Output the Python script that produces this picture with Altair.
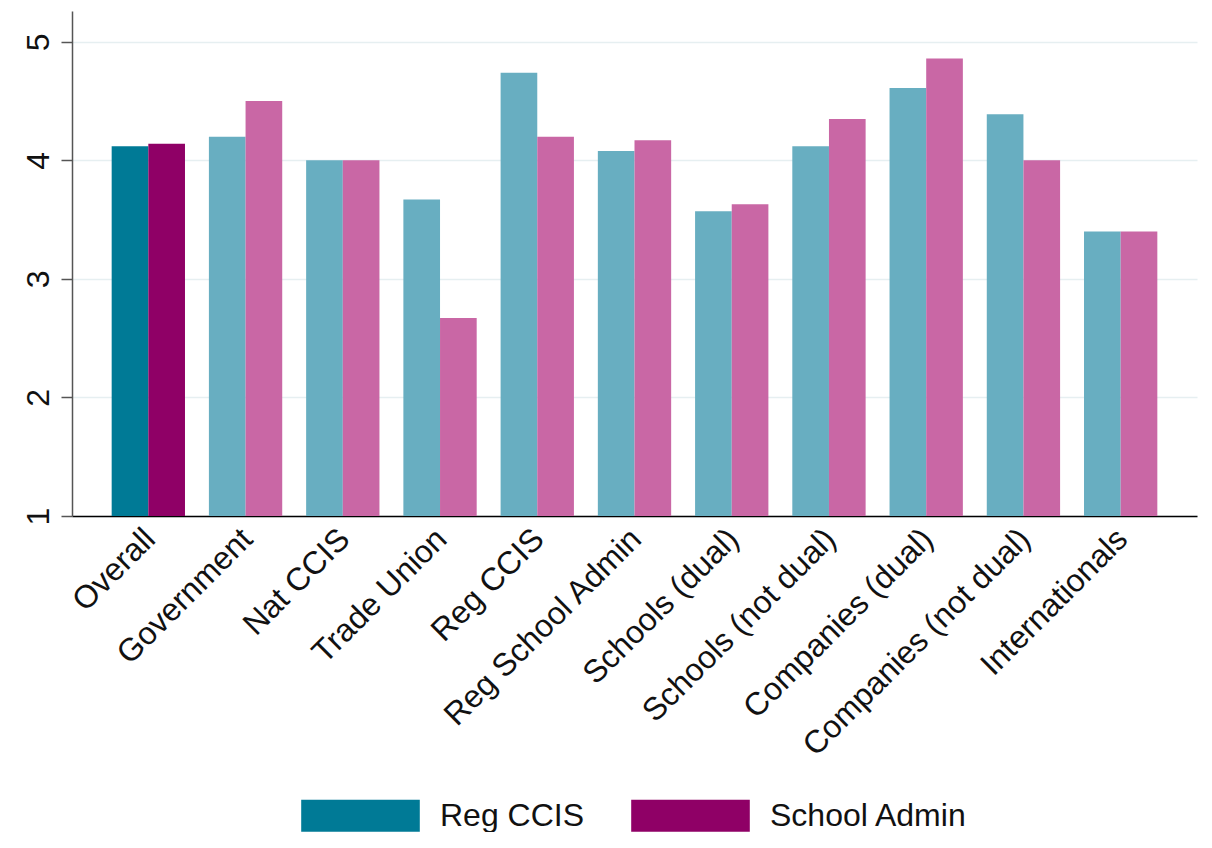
import altair as alt
import pandas as pd

categories = ["Overall", "Government", "Nat CCIS", "Trade Union", "Reg CCIS",
              "Reg School Admin", "Schools (dual)", "Schools (not dual)",
              "Companies (dual)", "Companies (not dual)", "Internationals"]
reg_ccis = [4.12, 4.20, 4.00, 3.67, 4.74, 4.08, 3.57, 4.12, 4.61, 4.39, 3.40]
school_admin = [4.14, 4.50, 4.00, 2.67, 4.20, 4.17, 3.63, 4.35, 4.86, 4.00, 3.40]
series_names = ["Reg CCIS", "School Admin"]
y_ticks = [1, 2, 3, 4, 5]

keys = ["Reg CCIS", "School Admin", "Reg CCIS (group)", "School Admin (group)"]
colors = ["#007A96", "#8F0066", "#68AEC1", "#C967A5"]

rows = []
for i, cat in enumerate(categories):
    for s, vals in zip(series_names, [reg_ccis, school_admin]):
        key = s if cat == "Overall" else s + " (group)"
        rows.append({"category": cat, "series": s, "value": vals[i], "key": key})
df = pd.DataFrame(rows)

FONT = "Liberation Sans"
FS = 32

chart = alt.Chart(df).mark_bar().encode(
    x=alt.X("category:N", sort=categories,
            scale=alt.Scale(paddingInner=0.246, paddingOuter=0.408),
            axis=alt.Axis(title=None, labelAngle=-45, labelAlign="right",
                          labelBaseline="top", labelFontSize=FS, labelFont=FONT,
                          labelColor="#111111", ticks=False, labelPadding=7,
                          labelOffset=-9,
                          domainColor="#000000", domainWidth=1.5,
                          labelLimit=0, labelOverlap=False, grid=False)),
    xOffset=alt.XOffset("series:N", sort=series_names),
    y=alt.Y("value:Q",
            scale=alt.Scale(domain=[1, 5.26], nice=False, zero=False),
            axis=alt.Axis(title=None, values=y_ticks, labelAngle=270,
                          labelAlign="center", labelBaseline="alphabetic",
                          labelFontSize=FS, labelFont=FONT, labelColor="#111111",
                          tickSize=11, tickColor="#555555", tickWidth=1.5,
                          labelPadding=13, domainColor="#555555", domainWidth=1.5,
                          grid=True, gridColor="#E6EFF1", gridWidth=1.5)),
    y2=alt.Y2(datum=1),
    color=alt.Color("key:N",
                    scale=alt.Scale(domain=keys, range=colors),
                    legend=alt.Legend(values=series_names, title=None,
                                      orient="none", legendX=229, legendY=745,
                                      direction="horizontal",
                                      symbolType="M-1,-0.27L1,-0.27L1,0.27L-1,0.27Z",
                                      symbolSize=14066, symbolStrokeWidth=0,
                                      symbolOpacity=1,
                                      labelFontSize=FS, labelFont=FONT,
                                      labelColor="#111111", labelOffset=20,
                                      columnPadding=46, labelLimit=0)),
).properties(
    width=1125, height=505,
    autosize=alt.AutoSizeParams(type="none"),
    padding={"left": 64, "top": 3, "right": 4, "bottom": 316},
).configure_view(stroke=None)

chart.save("out.html", embed_options={"renderer": "svg", "actions": False})
